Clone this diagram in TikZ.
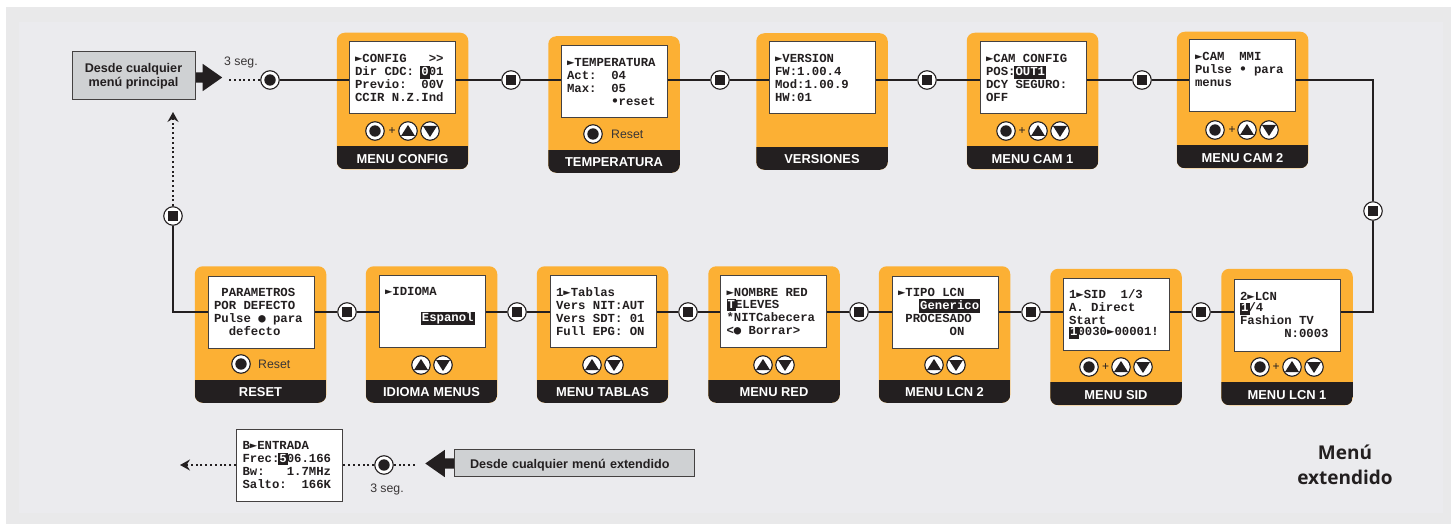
\documentclass[tikz,border=0pt]{standalone}
\usepackage{fontspec}
\setmainfont{Liberation Sans}
\newfontfamily\lcdfam{Liberation Mono}
\newfontfamily\lcdsym{DejaVu Sans Mono}
\newfontfamily\labelfam{Open Sans}
\usetikzlibrary{arrows.meta,shapes.arrows}
\definecolor{ink}{HTML}{231F20}
\definecolor{amber}{HTML}{FCB034}
\definecolor{backdrop}{HTML}{EBEBEE}
\definecolor{outerdrop}{HTML}{E9E9EA}
\definecolor{notegray}{HTML}{CFD1D3}
\newcommand{\tri}{{\lcdsym ►}}
\newcommand{\bigdot}{{\lcdsym ●}}
\newcommand{\smalldot}{{\lcdsym •}}
\newcommand{\lcdhl}[1]{\kern-1.2pt{\fboxsep=1.2pt\colorbox{ink}{\rule[-1.8pt]{0pt}{9.6pt}\textcolor{white}{#1}}}\kern-1.2pt}
\newcommand{\lcdsetup}{\def~{\leavevmode\kern7.38pt}}
\tikzset{
	panel/.style={rounded corners=8pt, fill=amber, inner sep=0pt, minimum width=131.5, minimum height=136.5,
		path picture={\fill[ink, sharp corners] ([yshift=23pt]path picture bounding box.south west) rectangle (path picture bounding box.south east);}},
	paneltitle/.style={text=white, inner sep=0pt, font=\fontsize{12.9}{14}\selectfont\bfseries},
	screen/.style={draw=ink!85, line width=1pt, fill=white, minimum height=72, text width=94, inner xsep=6, inner ysep=0pt, align=left, text=ink,
		font=\fontsize{12.3}{13}\lcdfam\bfseries\lcdsetup},
	round/.style={circle, draw=ink, line width=1.1pt, fill=white, inner sep=0pt, minimum size=18.5},
	stepdot/.style={round, path picture={\fill[ink] ([xshift=-5.3pt,yshift=-5.3pt]path picture bounding box.center) rectangle ++(10.6,-10.6);}},
	okbtn/.style={round, path picture={\fill[ink] (path picture bounding box.center) circle (5.7);}},
	upbtn/.style={round, path picture={\fill[ink] (path picture bounding box.center) ++(0,-6) -- ++(7,11) -- ++(-14,0) -- cycle;}},
	dnbtn/.style={round, path picture={\fill[ink] (path picture bounding box.center) ++(0,6) -- ++(7,-11) -- ++(-14,0) -- cycle;}},
	plusmark/.style={text=ink, inner sep=0pt, font=\fontsize{12}{12}\selectfont},
	smalltext/.style={text=ink!90, inner sep=0pt, font=\fontsize{12.3}{14}\selectfont},
	note/.style={draw=ink!85, line width=1pt, fill=notegray, inner sep=0pt, align=center, text=ink, font=\fontsize{12.6}{13.5}\selectfont\bfseries},
	blockarrow/.style={single arrow, fill=ink, inner sep=0pt, inner ysep=5pt, single arrow head extend=8.5, single arrow tip angle=70, single arrow head indent=0pt, minimum height=29},
	link/.style={draw=ink, line width=1.8pt},
	dotlink/.style={draw=ink, line width=2pt, dash pattern=on 2pt off 2.8pt},
	dottip/.style={dotlink, -{Stealth[length=10pt,width=11pt,inset=3.5pt]}},
}
\begin{document}
\begin{tikzpicture}[x=1pt,y=-1pt]

	\useasboundingbox (0,0) rectangle (1451,524);
	\fill[outerdrop] (6,7) rectangle (1451,524);
	\fill[backdrop] (19,22) rectangle (1443,513);

	% top row
	\node[panel] (pconfig) at (402.5,101) {};
	\node[panel] (ptemp) at (614,104.5) {};
	\node[panel] (pver) at (822,101.5) {};
	\node[panel] (pcama) at (1032.5,101) {};
	\node[panel] (pcamb) at (1242.5,100) {};
	% bottom row
	\node[panel] (preset) at (260.5,334.5) {};
	\node[panel] (pidioma) at (431.5,334.5) {};
	\node[panel] (ptablas) at (602.5,334.5) {};
	\node[panel] (pred) at (774,334.5) {};
	\node[panel] (plcnb) at (944.5,334.5) {};
	\node[panel] (psid) at (1116,337) {};
	\node[panel] (plcna) at (1287,337) {};

	\node[paneltitle] (tconfig) at ([yshift=10.8]pconfig.south) {MENU CONFIG};
	\node[paneltitle] (ttemp) at ([yshift=10.8]ptemp.south) {TEMPERATURA};
	\node[paneltitle] (tver) at ([yshift=10.8]pver.south) {VERSIONES};
	\node[paneltitle] (tcama) at ([yshift=10.8]pcama.south) {MENU CAM 1};
	\node[paneltitle] (tcamb) at ([yshift=10.8]pcamb.south) {MENU CAM 2};
	\node[paneltitle] (treset) at ([yshift=10.8]preset.south) {RESET};
	\node[paneltitle] (tidioma) at ([yshift=10.8]pidioma.south) {IDIOMA MENUS};
	\node[paneltitle] (ttablas) at ([yshift=10.8]ptablas.south) {MENU TABLAS};
	\node[paneltitle] (tred) at ([yshift=10.8]pred.south) {MENU RED};
	\node[paneltitle] (tlcnb) at ([yshift=10.8]plcnb.south) {MENU LCN 2};
	\node[paneltitle] (tsid) at ([yshift=10.8]psid.south) {MENU SID};
	\node[paneltitle] (tlcna) at ([yshift=10.8]plcna.south) {MENU LCN 1};

	\node[screen] (sconfig) at (402,78) {\tri CONFIG~~~>>\\Dir~CDC:~\lcdhl{0}01\\Previo:~~00V\\CCIR~N.Z.Ind};
	\node[screen] (stemp) at (614,82) {\tri TEMPERATURA\\Act:~~04\\Max:~~05\\~~~~~~\smalldot reset};
	\node[screen] (sver) at (822,77.5) {\tri VERSION\\FW:1.00.4\\Mod:1.00.9\\HW:01};
	\node[screen] (scama) at (1033,78) {\tri CAM~CONFIG\\POS:\lcdhl{OUT1}\\DCY~SEGURO:\\OFF};
	\node[screen] (scamb) at (1242,76) {\tri CAM~~MMI\\Pulse~\smalldot{}~para\\menus\\~};
	\node[screen] (sreset) at (261,312) {~PARAMETROS\\POR~DEFECTO\\Pulse~\bigdot{}~para\\~~defecto};
	\node[screen] (sidioma) at (432,311) {\tri IDIOMA\\~\\~~~~~\lcdhl{Espanol}\\~};
	\node[screen] (stablas) at (603,311.5) {1\tri Tablas\\Vers~NIT:AUT\\Vers~SDT:~01\\Full~EPG:~ON};
	\node[screen] (sred) at (773.5,311.5) {\tri NOMBRE~RED\\\lcdhl{T}ELEVES\\{}*NITCabecera\\<\bigdot{}~Borrar>};
	\node[screen] (slcnb) at (945,312) {\tri TIPO~LCN\\~~~\lcdhl{Generico}\\~PROCESADO\\~~~~~~~ON};
	\node[screen] (ssid) at (1116,314) {1\tri SID~~1/3\\A.~Direct\\Start\\\lcdhl{1}0030\tri 00001!};
	\node[screen] (slcna) at (1287,315) {2\tri LCN\\\lcdhl{1}/4\\Fashion~TV\\~~~~~~N:0003};
	\node[screen] (sentrada) at (289.5,465) {B\tri ENTRADA\\Frec:\lcdhl{5}06.166\\Bw:~~~1.7MHz\\Salto:~~166K};

	\node[okbtn] (okconfig) at (375,131) {};
	\node[plusmark] (plusconfig) at (392,131) {+};
	\node[upbtn] (upconfig) at (408,131) {};
	\node[dnbtn] (dnconfig) at (430,131) {};
	\node[okbtn] (oktemp) at (593,134) {};
	\node[smalltext, anchor=west] (rtemp) at (611,134) {Reset};
	\node[okbtn] (okcama) at (1006,131) {};
	\node[plusmark] (pluscama) at (1022,131) {+};
	\node[upbtn] (upcama) at (1038,131) {};
	\node[dnbtn] (dncama) at (1060,131) {};
	\node[okbtn] (okcamb) at (1215,130) {};
	\node[plusmark] (pluscamb) at (1232,130) {+};
	\node[upbtn] (upcamb) at (1247,130) {};
	\node[dnbtn] (dncamb) at (1269,130) {};
	\node[okbtn] (okreset) at (241,364) {};
	\node[smalltext, anchor=west] (rreset) at (258,364) {Reset};
	\node[upbtn] (upidioma) at (421,365) {};
	\node[dnbtn] (dnidioma) at (443,365) {};
	\node[upbtn] (uptablas) at (592,365) {};
	\node[dnbtn] (dntablas) at (614,365) {};
	\node[upbtn] (upred) at (763,365) {};
	\node[dnbtn] (dnred) at (785,365) {};
	\node[upbtn] (uplcnb) at (934,365) {};
	\node[dnbtn] (dnlcnb) at (956,365) {};
	\node[okbtn] (oksid) at (1089,367) {};
	\node[plusmark] (plussid) at (1105.5,367) {+};
	\node[upbtn] (upsid) at (1121,367) {};
	\node[dnbtn] (dnsid) at (1143,367) {};
	\node[okbtn] (oklcna) at (1260,367) {};
	\node[plusmark] (pluslcna) at (1276,367) {+};
	\node[upbtn] (uplcna) at (1292,367) {};
	\node[dnbtn] (dnlcna) at (1314,367) {};

	\node[okbtn] (start) at (270,80) {};
	\node[stepdot] (da) at (511,80) {};
	\node[stepdot] (db) at (720,80) {};
	\node[stepdot] (dc) at (927,80) {};
	\node[stepdot] (dd) at (1142,80) {};
	\node[stepdot] (de) at (1373,211) {};
	\node[stepdot] (df) at (1201,312) {};
	\node[stepdot] (dg) at (1031,312) {};
	\node[stepdot] (dh) at (859,312) {};
	\node[stepdot] (di) at (688,312) {};
	\node[stepdot] (dj) at (517,312) {};
	\node[stepdot] (dk) at (347,312) {};
	\node[stepdot] (dl) at (173,216) {};
	\coordinate (cornera) at (1373,80);
	\coordinate (cornerb) at (1373,312);
	\coordinate (cornerc) at (173,312);

	\draw[link] (start) -- (sconfig.west |- start);
	\draw[link] (sconfig.east |- da) -- (da);
	\draw[link] (da) -- (stemp.west |- da);
	\draw[link] (stemp.east |- db) -- (db);
	\draw[link] (db) -- (sver.west |- db);
	\draw[link] (sver.east |- dc) -- (dc);
	\draw[link] (dc) -- (scama.west |- dc);
	\draw[link] (scama.east |- dd) -- (dd);
	\draw[link] (dd) -- (scamb.west |- dd);
	\draw[link] (scamb.east |- dd) -- (cornera) -- (de);
	\draw[link] (de) -- (cornerb) -- (slcna.east |- cornerb);
	\draw[link] (slcna.west |- df) -- (df);
	\draw[link] (df) -- (ssid.east |- df);
	\draw[link] (ssid.west |- dg) -- (dg);
	\draw[link] (dg) -- (slcnb.east |- dg);
	\draw[link] (slcnb.west |- dh) -- (dh);
	\draw[link] (dh) -- (sred.east |- dh);
	\draw[link] (sred.west |- di) -- (di);
	\draw[link] (di) -- (stablas.east |- di);
	\draw[link] (stablas.west |- dj) -- (dj);
	\draw[link] (dj) -- (sidioma.east |- dj);
	\draw[link] (sidioma.west |- dk) -- (dk);
	\draw[link] (dk) -- (sreset.east |- dk);
	\draw[link] (sreset.west |- cornerc) -- (cornerc) -- (dl);

	% entry from the main menus
	\node[blockarrow] (ina) at (204,77.5) {};
	\node[note, minimum width=123, minimum height=48] (desde) at (133.5,76) {Desde cualquier\\menú principal};
	\node[smalltext] (sega) at (241,62) {3 seg.};
	\coordinate (dotsa) at (229,80);
	\coordinate (backtip) at (173,112);
	\draw[dotlink] (dotsa) -- (start);
	\draw[dottip] (dl) -- (backtip);

	% entry from the extended menus
	\node[blockarrow, shape border rotate=180] (inb) at (443.5,463.5) {};
	\node[note, minimum width=240, minimum height=27, text width=208, align=left] (desdeb) at (574,462.5) {\raisebox{-5.5pt}[0pt][0pt]{Desde cualquier menú extendido}};
	\node[okbtn] (startb) at (384,465) {};
	\node[smalltext] (segb) at (387,489) {3 seg.};
	\coordinate (dotsb) at (415,465);
	\coordinate (outtip) at (180,465);
	\draw[dotlink] (dotsb) -- (startb);
	\draw[dotlink] (startb) -- (sentrada.east |- startb);
	\draw[dottip] (sentrada.west |- outtip) -- (outtip);

	\node[text=ink, inner sep=0pt, align=center, font=\fontsize{19}{25}\labelfam\bfseries] (lbl) at (1345,465) {Menú\\extendido};

\end{tikzpicture}
\end{document}
